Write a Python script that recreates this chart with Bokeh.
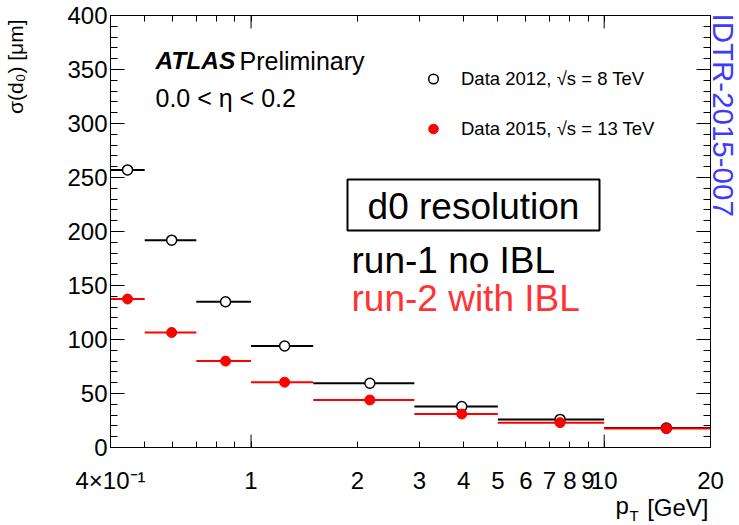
import math
from bokeh.plotting import figure
from bokeh.models import (LogAxis, LinearAxis, FixedTicker, Label, BoxAnnotation,
                          Range1d, ColumnDataSource, CustomJSTickFormatter, Legend, LegendItem)
from bokeh.embed import file_html
from bokeh.resources import INLINE

# ---------------- data ----------------
pt_low = [0.4, 0.5, 0.7, 1.0, 1.5, 2.9, 5.0, 10.0]
pt_high = [0.5, 0.7, 1.0, 1.5, 2.9, 5.0, 10.0, 20.0]
pt_center = [0.447, 0.596, 0.847, 1.245, 2.17, 3.95, 7.5, 15.0]
sigma_2012 = [257, 192, 135, 94, 59.5, 38, 26, 18]
sigma_2015 = [137.5, 106.5, 80, 60.5, 44, 31, 23, 17.5]

x_tick_values = [0.4, 1, 2, 3, 4, 5, 6, 7, 8, 9, 10, 20]
x_tick_labels = ["4×10⁻¹", "1", "2", "3", "4", "5", "6", "7", "8", "9", "10", "20"]
x_minor_values = [0.5, 0.6, 0.7, 0.8, 0.9]
x_long_ticks = [1, 10]
y_tick_values = [0, 50, 100, 150, 200, 250, 300, 350, 400]
y_minor_values = [10, 20, 30, 40, 60, 70, 80, 90, 110, 120, 130, 140, 160, 170, 180, 190,
                  210, 220, 230, 240, 260, 270, 280, 290, 310, 320, 330, 340, 360, 370, 380, 390]

FONT = "Liberation Sans"
RED = "#ff0000"

p = figure(width=739, height=525, x_axis_type="log",
           x_range=Range1d(0.4, 20), y_range=Range1d(0, 400),
           output_backend="svg", toolbar_location=None,
           min_border_left=110, min_border_right=29, min_border_top=15, min_border_bottom=78,
           background_fill_color="white", border_fill_color="white")
p.xgrid.visible = False
p.ygrid.visible = False
p.outline_line_color = "black"
p.outline_line_width = 1

xfmt = CustomJSTickFormatter(args=dict(vals=x_tick_values, labs=x_tick_labels), code="""
const i = vals.findIndex(v => Math.abs(v - tick) < 1e-6 * Math.max(1, Math.abs(v)));
return i >= 0 ? labs[i] : '';
""")
blank = CustomJSTickFormatter(code="return '';")


def style_axis(ax, major_in, minor_in):
    ax.major_tick_in = major_in
    ax.major_tick_out = 0
    ax.minor_tick_in = minor_in
    ax.minor_tick_out = 0
    ax.axis_line_color = "black"
    ax.major_tick_line_color = "black"
    ax.minor_tick_line_color = "black"
    ax.major_label_text_font = FONT
    ax.major_label_text_font_size = "24px"
    ax.major_label_text_color = "black"


xb = p.below[0]
xb.ticker = FixedTicker(ticks=x_tick_values, minor_ticks=x_minor_values)
xb.formatter = xfmt
style_axis(xb, 6, 6)
xb.major_label_standoff = 19

xt = LogAxis(ticker=FixedTicker(ticks=x_tick_values, minor_ticks=x_minor_values), formatter=blank)
style_axis(xt, 6, 6)
xt.major_label_standoff = 0
p.add_layout(xt, "above")

yl = p.left[0]
yl.ticker = FixedTicker(ticks=y_tick_values, minor_ticks=y_minor_values)
style_axis(yl, 14, 7)
yl.major_label_standoff = 3

yr = LinearAxis(ticker=FixedTicker(ticks=y_tick_values, minor_ticks=y_minor_values), formatter=blank)
style_axis(yr, 14, 7)
yr.major_label_standoff = 0
p.add_layout(yr, "right")

# longer ticks at decades (1 and 10), bottom and top
n_long = len(x_long_ticks)
p.segment(x0=x_long_ticks, y0=[p.y_range.start] * n_long, x1=x_long_ticks, y1=[p.y_range.start + 12] * n_long,
          line_color="black", line_width=1)
p.segment(x0=x_long_ticks, y0=[p.y_range.end] * n_long, x1=x_long_ticks, y1=[p.y_range.end - 12] * n_long,
          line_color="black", line_width=1)

# ---------------- data marks ----------------
src12 = ColumnDataSource(dict(lo=pt_low, hi=pt_high, x=pt_center, y=sigma_2012))
src15 = ColumnDataSource(dict(lo=pt_low, hi=pt_high, x=pt_center, y=sigma_2015))

p.segment(x0="lo", y0="y", x1="hi", y1="y", source=src12, line_color="black", line_width=2)
r12 = p.scatter("x", "y", source=src12, size=10, marker="circle",
                fill_color="white", line_color="black", line_width=1.5)
p.segment(x0="lo", y0="y", x1="hi", y1="y", source=src15, line_color=RED, line_width=2)
r15 = p.scatter("x", "y", source=src15, size=10, marker="circle",
                fill_color=RED, line_color=RED, line_width=1)

legend = Legend(items=[LegendItem(label="Data 2012, √s = 8 TeV", renderers=[r12]),
                       LegendItem(label="Data 2015, √s = 13 TeV", renderers=[r15])],
                location=(311, 306), orientation="vertical",
                glyph_width=24, glyph_height=25, label_height=25, spacing=25,
                padding=0, margin=0, label_standoff=16,
                border_line_color=None, background_fill_alpha=0,
                label_text_font=FONT, label_text_font_size="18.5px", label_text_color="black")
p.add_layout(legend)


def lab(text, x, y, size, color="black", align="left", style="normal", where="center", angle=0.0):
    l = Label(x=x, y=y, x_units="screen", y_units="screen", text=text,
              text_font=FONT, text_font_size=f"{size}px", text_color=color,
              text_align=align, text_baseline="middle", text_font_style=style, angle=angle)
    if where == "center":
        p.add_layout(l)
    else:
        p.add_layout(l, where)


lab("ATLAS", 45, 387, 24.5, style="bold italic")
lab("Preliminary", 129, 387, 25)
lab("0.0 < η < 0.2", 45, 350, 25)

p.add_layout(BoxAnnotation(left=237, right=489, bottom=217, top=268,
                           left_units="screen", right_units="screen",
                           top_units="screen", bottom_units="screen",
                           fill_color=None, fill_alpha=0, line_color="black",
                           line_alpha=1, line_width=2))
lab("d0 resolution", 363, 241, 37, align="center")
lab("run-1 no IBL", 241, 187, 37)
lab("run-2 with IBL", 241, 149, 37, color="#ff3333")

# texts outside the frame live in side panels (not clipped there);
# their x/y are relative to their own panel box
lab("σ(d₀) [μm]", -26.5, 428, 21, align="right", where="left", angle=math.pi / 2)
lab("IDTR-2015-007", 714.5, 434, 29.5, color="#3c3cff", where="left", angle=-math.pi / 2)
lab("T", -81, -68, 15, where="right")
lab("p", -104, -58, 24, where="right")
lab("[GeV]", 598, 16, 24, align="right", where="below")

open("out.html", "w").write(file_html(p, INLINE))
